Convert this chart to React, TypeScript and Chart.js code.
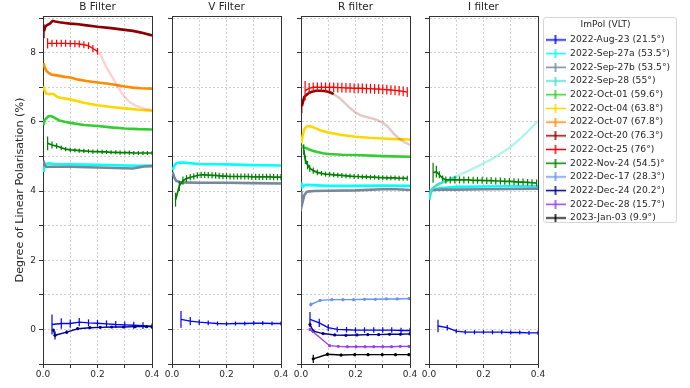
import { useEffect, useRef } from 'react';
import { Chart, registerables } from 'chart.js';

Chart.register(...registerables);

type Pt = [number, number, number?];

// ---------------- labels / ticks ----------------
const FILTER_TITLES = ['B Filter', 'V Filter', 'R filter', 'I filter'];
const Y_AXIS_TITLE = 'Degree of Linear Polarisation (%)';
const LEGEND_TITLE = 'ImPol (VLT)';
const EPOCH_LABELS = [
  '2022-Aug-23 (21.5°)', '2022-Sep-27a (53.5°)', '2022-Sep-27b (53.5°)', '2022-Sep-28 (55°)',
  '2022-Oct-01 (59.6°)', '2022-Oct-04 (63.8°)', '2022-Oct-07 (67.8°)', '2022-Oct-20 (76.3°)',
  '2022-Oct-25 (76°)', '2022-Nov-24 (54.5)°', '2022-Dec-17 (28.3°)', '2022-Dec-24 (20.2°)',
  '2022-Dec-28 (15.7°)', '2023-Jan-03 (9.9°)',
];
const EPOCH_COLORS = [
  '#0000ff', '#00ffff', '#778899', '#40e0d0', '#32cd32', '#ffd700', '#ff8c00',
  '#8b0000', '#ff0000', '#008000', '#6495ed', '#00008b', '#9b40ee', '#000000',
];
const X_GRID = [0, 0.1, 0.2, 0.3, 0.4];
const X_TICK_VALUES = [0, 0.2, 0.4];
const X_TICK_LABELS = ['0.0', '0.2', '0.4'];
const Y_GRID = [-1, 0, 1, 2, 3, 4, 5, 6, 7, 8, 9];
const Y_TICK_VALUES = [0, 2, 4, 6, 8];
const Y_TICK_LABELS = ['0', '2', '4', '6', '8'];
const X_MIN = 0;
const X_MAX = 0.4;
const Y_MIN = -1;
const Y_MAX = 9.06;

// ---------------- B filter ----------------
const bAug23: Pt[] = [[0.033,0.14,0.29],[0.067,0.17,0.15],[0.1,0.17,0.12],[0.133,0.21,0.12],[0.167,0.19,0.1],[0.2,0.18,0.1],[0.233,0.16,0.1],[0.267,0.14,0.1],[0.3,0.13,0.1],[0.333,0.12,0.1],[0.367,0.11,0.1],[0.4,0.09,0.08]];
const bSep27a: Pt[] = [[0.002,4.55],[0.005,4.7],[0.01,4.78],[0.02,4.8],[0.04,4.78],[0.1,4.77],[0.2,4.76],[0.3,4.74],[0.35,4.73],[0.4,4.74]];
const bSep27b: Pt[] = [[0.002,4.88],[0.006,4.75],[0.012,4.7],[0.03,4.7],[0.1,4.7],[0.2,4.68],[0.3,4.66],[0.33,4.65],[0.35,4.68],[0.37,4.71],[0.4,4.72]];
const bOct01: Pt[] = [[0.002,5.9],[0.006,6.05],[0.012,6.1],[0.02,6.16],[0.03,6.17],[0.04,6.13],[0.06,6.04],[0.08,6.0],[0.1,5.97],[0.15,5.91],[0.2,5.88],[0.25,5.84],[0.3,5.81],[0.35,5.79],[0.4,5.78]];
const bOct04: Pt[] = [[0.002,7.03],[0.006,6.9],[0.012,6.82],[0.02,6.8],[0.03,6.81],[0.04,6.8],[0.053,6.72],[0.07,6.69],[0.1,6.65],[0.15,6.55],[0.2,6.48],[0.25,6.43],[0.3,6.39],[0.35,6.35],[0.4,6.32]];
const bOct07: Pt[] = [[0.002,7.7],[0.006,7.58],[0.012,7.48],[0.02,7.42],[0.03,7.37],[0.045,7.35],[0.06,7.33],[0.08,7.3],[0.1,7.28],[0.13,7.22],[0.16,7.18],[0.2,7.14],[0.24,7.1],[0.28,7.05],[0.3,7.02],[0.33,6.99],[0.36,6.97],[0.4,6.96]];
const bOct20: Pt[] = [[0.004,8.62,0.2],[0.008,8.75],[0.015,8.8],[0.025,8.84],[0.035,8.92],[0.045,8.9],[0.06,8.88],[0.08,8.86],[0.1,8.84],[0.13,8.82],[0.16,8.79],[0.2,8.75],[0.25,8.71],[0.3,8.66],[0.33,8.63],[0.36,8.58],[0.4,8.5]];
const bOct25: Pt[] = [[0.017,8.27,0.15],[0.033,8.27,0.1],[0.05,8.27,0.1],[0.067,8.27,0.1],[0.083,8.27,0.1],[0.1,8.26,0.1],[0.117,8.26,0.1],[0.133,8.25,0.1],[0.15,8.23,0.1],[0.167,8.2,0.1],[0.183,8.12,0.1],[0.2,8.04,0.1]];
const bOct25Faded: Pt[] = [[0.2,8.04],[0.21,7.95],[0.22,7.8],[0.23,7.62],[0.24,7.48],[0.25,7.35],[0.26,7.22],[0.27,7.08],[0.28,6.95],[0.29,6.82],[0.3,6.72],[0.31,6.63],[0.32,6.56],[0.34,6.47],[0.36,6.41],[0.38,6.37],[0.4,6.34]];
const bNov24: Pt[] = [[0.017,5.38,0.2],[0.033,5.33,0.1],[0.05,5.3,0.08],[0.067,5.25,0.07],[0.083,5.21,0.06],[0.1,5.19,0.06],[0.117,5.18,0.06],[0.133,5.17,0.06],[0.15,5.16,0.06],[0.167,5.15,0.06],[0.183,5.14,0.06],[0.2,5.14,0.06],[0.217,5.13,0.06],[0.233,5.13,0.06],[0.25,5.12,0.06],[0.267,5.12,0.06],[0.283,5.11,0.06],[0.3,5.11,0.06],[0.317,5.11,0.06],[0.333,5.1,0.06],[0.35,5.1,0.06],[0.367,5.1,0.06],[0.383,5.1,0.06],[0.4,5.1,0.06]];
const bDec24: Pt[] = [[0.038,-0.02,0],[0.044,-0.17,0.12],[0.087,-0.08,0.05],[0.127,0.02,0.04],[0.172,0.05,0.03],[0.21,0.06,0.03],[0.252,0.07,0.03],[0.295,0.07,0.03],[0.338,0.08,0.03],[0.38,0.08,0.03],[0.4,0.08,0]];

// ---------------- V filter ----------------
const vAug23: Pt[] = [[0.033,0.29,0.24],[0.067,0.24,0.12],[0.1,0.21,0.08],[0.133,0.19,0.07],[0.167,0.17,0.06],[0.2,0.16,0.06],[0.233,0.17,0.06],[0.267,0.17,0.06],[0.3,0.18,0.06],[0.333,0.18,0.06],[0.367,0.17,0.06],[0.4,0.17,0.06]];
const vSep27a: Pt[] = [[0.002,4.6],[0.008,4.72],[0.015,4.8],[0.025,4.82],[0.04,4.82],[0.1,4.78],[0.2,4.77],[0.3,4.75],[0.4,4.74]];
const vSep27b: Pt[] = [[0.002,4.55],[0.008,4.4],[0.015,4.3],[0.03,4.25],[0.1,4.24],[0.2,4.24],[0.3,4.23],[0.4,4.22]];
const vNov24: Pt[] = [[0.013,3.75,0.2],[0.027,4.15,0.15],[0.04,4.3,0.12],[0.053,4.36,0.1],[0.067,4.4,0.09],[0.08,4.42,0.09],[0.093,4.45,0.09],[0.107,4.47,0.09],[0.12,4.47,0.09],[0.133,4.46,0.09],[0.147,4.45,0.09],[0.16,4.45,0.09],[0.173,4.44,0.09],[0.187,4.43,0.09],[0.2,4.43,0.09],[0.213,4.42,0.09],[0.227,4.42,0.09],[0.24,4.42,0.09],[0.253,4.42,0.09],[0.267,4.42,0.09],[0.28,4.42,0.09],[0.293,4.41,0.09],[0.307,4.41,0.09],[0.32,4.41,0.09],[0.333,4.41,0.09],[0.347,4.41,0.09],[0.36,4.41,0.09],[0.373,4.4,0.09],[0.387,4.4,0.09],[0.4,4.4,0.09]];

// ---------------- R filter ----------------
const rAug23: Pt[] = [[0.033,0.29,0.21],[0.067,0.19,0.12],[0.1,0.05,0.1],[0.133,0.0,0.08],[0.167,-0.01,0.08],[0.2,-0.02,0.08],[0.233,-0.02,0.08],[0.267,-0.02,0.08],[0.3,-0.02,0.08],[0.333,-0.02,0.08],[0.367,-0.03,0.08],[0.4,-0.03,0.08]];
const rSep27a: Pt[] = [[0.001,4.25],[0.005,4.12],[0.01,4.15],[0.02,4.18],[0.04,4.17],[0.1,4.15],[0.2,4.15],[0.3,4.16],[0.4,4.15]];
const rSep27b: Pt[] = [[0.001,4.0],[0.004,3.62],[0.008,3.75],[0.012,3.88],[0.02,3.97],[0.03,3.99],[0.05,4.0],[0.1,4.01],[0.2,4.02],[0.3,4.05],[0.35,4.05],[0.4,4.03]];
const rOct01: Pt[] = [[0.001,5.3],[0.01,5.26],[0.02,5.24],[0.03,5.2],[0.045,5.16],[0.06,5.13],[0.08,5.09],[0.1,5.07],[0.15,5.05],[0.2,5.04],[0.3,5.01],[0.4,4.99]];
const rOct04: Pt[] = [[0.001,5.38],[0.006,5.6],[0.012,5.78],[0.02,5.86],[0.03,5.88],[0.04,5.86],[0.055,5.81],[0.07,5.76],[0.1,5.69],[0.15,5.62],[0.2,5.57],[0.25,5.54],[0.3,5.52],[0.35,5.5],[0.4,5.49]];
const rOct20: Pt[] = [[0.003,6.45,0.2],[0.008,6.6],[0.012,6.72],[0.02,6.78],[0.03,6.84],[0.04,6.87],[0.055,6.9],[0.07,6.9],[0.085,6.89],[0.1,6.87],[0.11,6.84],[0.12,6.8]];
const rOct20Faded: Pt[] = [[0.12,6.8],[0.14,6.7],[0.16,6.55],[0.18,6.4],[0.2,6.27],[0.22,6.19],[0.24,6.14],[0.26,6.1],[0.28,6.05],[0.3,5.98],[0.32,5.85],[0.34,5.66],[0.36,5.52],[0.38,5.41],[0.4,5.33]];
const rOct25: Pt[] = [[0.015,6.9,0.28],[0.03,6.97,0.15],[0.045,7.0,0.14],[0.06,7.0,0.14],[0.075,7.0,0.14],[0.09,7.0,0.14],[0.105,7.0,0.14],[0.12,7.0,0.14],[0.135,6.99,0.14],[0.15,6.99,0.14],[0.165,6.98,0.14],[0.18,6.98,0.14],[0.195,6.97,0.14],[0.21,6.97,0.14],[0.225,6.97,0.14],[0.24,6.96,0.14],[0.255,6.96,0.14],[0.27,6.95,0.14],[0.285,6.95,0.14],[0.3,6.94,0.14],[0.315,6.93,0.14],[0.33,6.92,0.14],[0.345,6.91,0.14],[0.36,6.9,0.14],[0.375,6.88,0.14],[0.39,6.86,0.14]];
const rNov24: Pt[] = [[0.01,5.2,0.15],[0.016,4.9,0.12],[0.024,4.75,0.12],[0.032,4.66,0.1],[0.045,4.59,0.09],[0.06,4.54,0.08],[0.075,4.51,0.07],[0.09,4.49,0.07],[0.105,4.48,0.07],[0.12,4.47,0.07],[0.135,4.46,0.07],[0.15,4.45,0.07],[0.165,4.44,0.07],[0.18,4.43,0.07],[0.195,4.42,0.07],[0.21,4.42,0.07],[0.225,4.41,0.07],[0.24,4.41,0.07],[0.255,4.4,0.07],[0.27,4.4,0.07],[0.285,4.39,0.07],[0.3,4.39,0.07],[0.315,4.38,0.07],[0.33,4.38,0.07],[0.345,4.38,0.07],[0.36,4.37,0.07],[0.375,4.37,0.07],[0.39,4.37,0.07]];
const rDec17: Pt[] = [[0.036,0.72,0.06],[0.07,0.84,0.04],[0.113,0.86,0.03],[0.154,0.86,0.03],[0.193,0.86,0.03],[0.233,0.87,0.03],[0.273,0.87,0.03],[0.313,0.88,0.03],[0.353,0.88,0.03],[0.396,0.89,0.03]];
const rDec24: Pt[] = [[0.033,0.14,0.06],[0.045,-0.05,0.05],[0.081,-0.12,0.04],[0.124,-0.16,0.03],[0.165,-0.17,0.03],[0.205,-0.16,0.03],[0.245,-0.15,0.03],[0.285,-0.15,0.03],[0.325,-0.14,0.03],[0.365,-0.14,0.03],[0.4,-0.13,0.03]];
const rDec28: Pt[] = [[0.033,0.0,0.04],[0.105,-0.47,0.03],[0.137,-0.49,0.02],[0.17,-0.5,0.02],[0.202,-0.5,0.02],[0.235,-0.5,0.02],[0.267,-0.5,0.02],[0.3,-0.5,0.02],[0.332,-0.5,0.02],[0.364,-0.49,0.02],[0.396,-0.49,0.02]];
const rJan03: Pt[] = [[0.045,-0.85,0.12],[0.097,-0.72,0.05],[0.147,-0.74,0.04],[0.197,-0.73,0.04],[0.246,-0.73,0.04],[0.298,-0.73,0.04],[0.347,-0.73,0.04],[0.396,-0.73,0.04]];

// ---------------- I filter ----------------
const iAug23: Pt[] = [[0.033,0.1,0.18],[0.067,0.05,0.08],[0.1,-0.05,0.06],[0.133,-0.08,0.06],[0.167,-0.08,0.06],[0.2,-0.08,0.06],[0.233,-0.08,0.06],[0.267,-0.08,0.06],[0.3,-0.09,0.06],[0.333,-0.09,0.06],[0.367,-0.1,0.06],[0.4,-0.1,0.06]];
const iSep27a: Pt[] = [[0.001,3.75],[0.005,3.9],[0.01,4.0],[0.02,4.05],[0.04,4.08],[0.1,4.12],[0.2,4.13],[0.3,4.14],[0.4,4.14]];
const iSep27b: Pt[] = [[0.001,4.0],[0.01,4.03],[0.05,4.04],[0.1,4.04],[0.2,4.05],[0.3,4.06],[0.4,4.07]];
const iSep28: Pt[] = [[0.001,3.8],[0.005,3.95],[0.01,4.05],[0.02,4.12],[0.03,4.18],[0.04,4.22],[0.05,4.25],[0.06,4.28],[0.07,4.31],[0.08,4.35],[0.09,4.38],[0.1,4.42]];
const iSep28Faded: Pt[] = [[0.1,4.42],[0.12,4.5],[0.14,4.57],[0.16,4.64],[0.18,4.72],[0.2,4.8],[0.22,4.88],[0.24,4.97],[0.26,5.07],[0.28,5.17],[0.3,5.28],[0.32,5.41],[0.34,5.55],[0.36,5.7],[0.38,5.86],[0.4,6.03]];
const iNov24: Pt[] = [[0.015,4.53,0.29],[0.027,4.56,0.17],[0.038,4.47,0.1],[0.05,4.37,0.08],[0.062,4.32,0.1],[0.078,4.32,0.1],[0.095,4.32,0.1],[0.112,4.32,0.1],[0.128,4.32,0.1],[0.145,4.32,0.1],[0.162,4.31,0.1],[0.178,4.31,0.1],[0.195,4.31,0.1],[0.212,4.3,0.1],[0.228,4.3,0.1],[0.245,4.29,0.1],[0.262,4.29,0.1],[0.278,4.28,0.1],[0.295,4.28,0.1],[0.312,4.27,0.1],[0.328,4.26,0.1],[0.345,4.26,0.1],[0.362,4.25,0.1],[0.378,4.24,0.1],[0.395,4.23,0.1]];

// ---------------- panel composition ----------------
const AUG23 = 0, SEP27A = 1, SEP27B = 2, SEP28 = 3, OCT01 = 4, OCT04 = 5, OCT07 = 6,
  OCT20 = 7, OCT25 = 8, NOV24 = 9, DEC17 = 10, DEC24 = 11, DEC28 = 12, JAN03 = 13;

type Kind = 'dense' | 'err' | 'dots' | 'faded';
type Spec = { epoch: number; pts: Pt[]; kind: Kind; alpha?: number };

const PANELS: Spec[][] = [
  [
    { epoch: AUG23, pts: bAug23, kind: 'err' },
    { epoch: SEP27A, pts: bSep27a, kind: 'dense' },
    { epoch: SEP27B, pts: bSep27b, kind: 'dense' },
    { epoch: OCT01, pts: bOct01, kind: 'dense' },
    { epoch: OCT04, pts: bOct04, kind: 'dense' },
    { epoch: OCT07, pts: bOct07, kind: 'dense' },
    { epoch: OCT20, pts: bOct20, kind: 'dense' },
    { epoch: OCT25, pts: bOct25Faded, kind: 'faded', alpha: 0.18 },
    { epoch: OCT25, pts: bOct25, kind: 'err' },
    { epoch: NOV24, pts: bNov24, kind: 'err' },
    { epoch: DEC24, pts: bDec24, kind: 'dots' },
  ],
  [
    { epoch: AUG23, pts: vAug23, kind: 'err' },
    { epoch: SEP27A, pts: vSep27a, kind: 'dense' },
    { epoch: SEP27B, pts: vSep27b, kind: 'dense' },
    { epoch: NOV24, pts: vNov24, kind: 'err' },
  ],
  [
    { epoch: AUG23, pts: rAug23, kind: 'err' },
    { epoch: SEP27A, pts: rSep27a, kind: 'dense' },
    { epoch: SEP27B, pts: rSep27b, kind: 'dense' },
    { epoch: OCT01, pts: rOct01, kind: 'dense' },
    { epoch: OCT04, pts: rOct04, kind: 'dense' },
    { epoch: OCT20, pts: rOct20Faded, kind: 'faded', alpha: 0.22 },
    { epoch: OCT20, pts: rOct20, kind: 'dense' },
    { epoch: OCT25, pts: rOct25, kind: 'err' },
    { epoch: NOV24, pts: rNov24, kind: 'err' },
    { epoch: DEC17, pts: rDec17, kind: 'dots' },
    { epoch: DEC24, pts: rDec24, kind: 'dots' },
    { epoch: DEC28, pts: rDec28, kind: 'dots' },
    { epoch: JAN03, pts: rJan03, kind: 'dots' },
  ],
  [
    { epoch: AUG23, pts: iAug23, kind: 'err' },
    { epoch: SEP27A, pts: iSep27a, kind: 'dense' },
    { epoch: SEP27B, pts: iSep27b, kind: 'dense' },
    { epoch: SEP28, pts: iSep28Faded, kind: 'faded', alpha: 0.4 },
    { epoch: SEP28, pts: iSep28, kind: 'dense' },
    { epoch: NOV24, pts: iNov24, kind: 'err' },
  ],
];

// ---------------- layout ----------------
const FONT = "'DejaVu Sans', sans-serif";
const TEXT = '#262626';
const PLOT_LEFTS = [43, 172, 301, 429];
const PLOT_W = 109;
const PLOT_TOP = 16;
const XAXIS_H = 24;
const RIGHT_PAD = 12;
const H = 388;

function rgba(hex: string, a: number) {
  const n = parseInt(hex.slice(1), 16);
  return `rgba(${(n >> 16) & 255},${(n >> 8) & 255},${n & 255},${a})`;
}

function makeDataset(s: Spec) {
  const base = EPOCH_COLORS[s.epoch];
  const color = s.kind === 'faded' ? rgba(base, s.alpha ?? 0.3) : base;
  const width = s.kind === 'dense' ? 2.6 : s.kind === 'faded' ? 2.4 : s.epoch === NOV24 ? 1.7 : 1.4;
  return {
    label: EPOCH_LABELS[s.epoch],
    data: s.pts.map((p) => ({ x: p[0], y: p[1] })),
    errs: s.pts.map((p) => p[2] || 0),
    borderColor: color,
    backgroundColor: color,
    borderWidth: width,
    pointRadius: s.kind === 'dots' ? 1.6 : 0,
    pointBorderWidth: 0,
    pointHoverRadius: 0,
    tension: 0,
    fill: false,
  };
}

const errorBarPlugin = {
  id: 'errorBars',
  afterDatasetDraw(chart: any, args: any) {
    const ds: any = chart.data.datasets[args.index];
    if (!ds || !ds.errs) return;
    const xs = chart.scales.x;
    const ys = chart.scales.y;
    const a = chart.chartArea;
    const ctx = chart.ctx;
    ctx.save();
    ctx.beginPath();
    ctx.rect(a.left, a.top, a.right - a.left, a.bottom - a.top);
    ctx.clip();
    ctx.strokeStyle = ds.borderColor;
    ctx.lineWidth = 1.2;
    ds.data.forEach((p: any, i: number) => {
      const e = ds.errs[i];
      if (!e) return;
      const x = xs.getPixelForValue(p.x);
      ctx.beginPath();
      ctx.moveTo(x, ys.getPixelForValue(p.y - e));
      ctx.lineTo(x, ys.getPixelForValue(p.y + e));
      ctx.stroke();
    });
    ctx.restore();
  },
};

function framePlugin(title: string) {
  return {
    id: 'frameTitle',
    afterDraw(chart: any) {
      const a = chart.chartArea;
      const ctx = chart.ctx;
      ctx.save();
      ctx.strokeStyle = '#333';
      ctx.lineWidth = 1;
      ctx.beginPath();
      ctx.moveTo(a.left, a.top + 0.5);
      ctx.lineTo(a.right + 1, a.top + 0.5);
      ctx.moveTo(a.right + 0.5, a.top);
      ctx.lineTo(a.right + 0.5, a.bottom + 1);
      ctx.stroke();
      ctx.fillStyle = TEXT;
      ctx.font = `10.5px ${FONT}`;
      ctx.textAlign = 'center';
      ctx.textBaseline = 'middle';
      ctx.fillText(title, (a.left + a.right) / 2, 7.5);
      ctx.restore();
    },
  };
}

function panelConfig(i: number): any {
  const first = i === 0;
  const yAxisW = first ? PLOT_LEFTS[0] : 20;
  const datasets = PANELS[i].map(makeDataset).reverse();
  const gridCommon = { color: '#c4c4c4', lineWidth: 0.8, tickLength: 4, tickColor: '#333', tickWidth: 1 };
  const borderCommon = { display: true, color: '#333', width: 1, dash: [2, 2] };
  return {
    type: 'line',
    data: { datasets },
    plugins: [errorBarPlugin, framePlugin(FILTER_TITLES[i])],
    options: {
      responsive: false,
      animation: false,
      events: [],
      layout: { padding: { top: PLOT_TOP, right: RIGHT_PAD, left: 0, bottom: 0 } },
      plugins: { legend: { display: false }, tooltip: { enabled: false }, title: { display: false } },
      scales: {
        x: {
          type: 'linear',
          min: X_MIN,
          max: X_MAX,
          afterFit: (s: any) => { s.height = XAXIS_H; },
          afterBuildTicks: (s: any) => { s.ticks = X_GRID.map((v) => ({ value: v })); },
          ticks: {
            autoSkip: false,
            maxRotation: 0,
            padding: 1,
            color: TEXT,
            font: { family: FONT, size: 9 },
            callback: (v: any) => {
              const k = X_TICK_VALUES.findIndex((t) => Math.abs(t - Number(v)) < 1e-9);
              return k >= 0 ? X_TICK_LABELS[k] : '';
            },
          },
          grid: gridCommon,
          border: borderCommon,
        },
        y: {
          type: 'linear',
          min: Y_MIN,
          max: Y_MAX,
          afterFit: (s: any) => { s.width = yAxisW; },
          afterBuildTicks: (s: any) => { s.ticks = Y_GRID.map((v) => ({ value: v })); },
          ticks: {
            autoSkip: false,
            padding: 3,
            color: TEXT,
            font: { family: FONT, size: 9 },
            callback: (v: any) => {
              if (!first) return '';
              const k = Y_TICK_VALUES.findIndex((t) => Math.abs(t - Number(v)) < 1e-9);
              return k >= 0 ? Y_TICK_LABELS[k] : '';
            },
          },
          title: first
            ? { display: true, text: Y_AXIS_TITLE, color: TEXT, font: { family: FONT, size: 11.2 }, padding: { top: 13.8, bottom: 0 } }
            : { display: false },
          grid: gridCommon,
          border: borderCommon,
        },
      },
    },
  };
}

function legendMarker(color: string) {
  const c = document.createElement('canvas');
  c.width = 20;
  c.height = 9;
  const g = c.getContext('2d')!;
  g.strokeStyle = color;
  g.lineWidth = 1.5;
  g.beginPath();
  g.moveTo(0, 4.5);
  g.lineTo(20, 4.5);
  g.moveTo(10, 0);
  g.lineTo(10, 9);
  g.stroke();
  return c;
}

function legendConfig(): any {
  return {
    type: 'line',
    data: { datasets: [] },
    options: {
      responsive: false,
      animation: false,
      events: [],
      layout: { padding: 0 },
      scales: { x: { display: false }, y: { display: false } },
      plugins: {
        tooltip: { enabled: false },
        legend: {
          display: true,
          position: 'top',
          align: 'start',
          maxHeight: 400,
          title: {
            display: true,
            text: LEGEND_TITLE,
            color: TEXT,
            font: { family: FONT, size: 9 },
            padding: { top: 4, bottom: 0 },
          },
          labels: {
            usePointStyle: true,
            pointStyleWidth: 20,
            boxHeight: 9,
            padding: 4.5,
            color: TEXT,
            font: { family: FONT, size: 9.2 },
            generateLabels: () =>
              EPOCH_LABELS.map((text, k) => ({
                text,
                fillStyle: EPOCH_COLORS[k],
                strokeStyle: EPOCH_COLORS[k],
                fontColor: TEXT,
                lineWidth: 0,
                hidden: false,
                pointStyle: legendMarker(EPOCH_COLORS[k]),
                datasetIndex: k,
              })),
          },
        },
      },
    },
  };
}

export default function App() {
  const panelRefs = useRef<(HTMLCanvasElement | null)[]>([]);
  const legendRef = useRef<HTMLCanvasElement | null>(null);

  useEffect(() => {
    document.body.style.margin = '0';
    const charts: Chart[] = [];
    PANELS.forEach((_, i) => {
      const cv = panelRefs.current[i];
      if (cv) charts.push(new Chart(cv, panelConfig(i)));
    });
    if (legendRef.current) charts.push(new Chart(legendRef.current, legendConfig()));
    return () => charts.forEach((c) => c.destroy());
  }, []);

  return (
    <div style={{ position: 'relative', width: 690, height: H, background: '#fff', overflow: 'hidden' }}>
      {PANELS.map((_, i) => {
        const yW = i === 0 ? PLOT_LEFTS[0] : 20;
        const left = PLOT_LEFTS[i] - yW;
        const w = yW + PLOT_W + RIGHT_PAD;
        return (
          <canvas
            key={i}
            ref={(el) => { panelRefs.current[i] = el; }}
            width={w}
            height={H}
            style={{ position: 'absolute', left, top: 0, width: w, height: H }}
          />
        );
      })}
      <div
        style={{
          position: 'absolute', left: 543, top: 17, width: 134, height: 206,
          border: '1px solid #d6d6d6', borderRadius: 3, boxSizing: 'border-box', background: 'rgba(255,255,255,0.8)',
        }}
      >
        <canvas
          ref={legendRef}
          width={134}
          height={206}
          style={{ position: 'absolute', left: -3, top: -2, width: 134, height: 206 }}
        />
      </div>
    </div>
  );
}
